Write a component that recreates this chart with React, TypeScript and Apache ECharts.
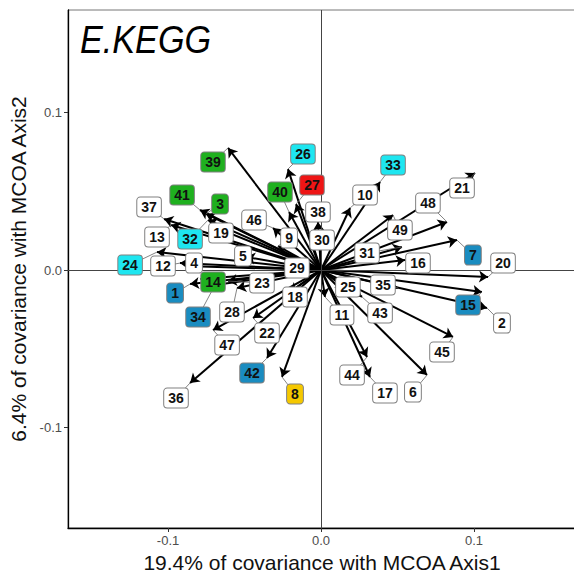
import React, { useEffect, useRef } from 'react';
import * as echarts from 'echarts';

const varNames = ['1','2','3','4','5','6','7','8','9','10','11','12','13','14','15','16','17','18','19','20','21','22','23','24','25','26','27','28','29','30','31','32','33','34','35','36','37','38','39','40','41','42','43','44','45','46','47','48','49'];

const tipX = [-0.0856,0.1085,-0.0752,-0.0882,-0.049,0.0693,0.0889,-0.0255,-0.0281,0.019,0.0026,-0.0922,-0.098,-0.0791,0.1052,0.0549,0.032,-0.0203,-0.0712,0.1092,0.1007,-0.0444,-0.0608,-0.1072,0.0157,-0.0216,-0.0163,-0.0549,-0.0137,-0.0007,0.0529,-0.0739,0.0386,-0.0693,0.0503,-0.0856,-0.1026,-0.002,-0.0608,-0.0209,-0.0791,-0.0353,0.0268,0.0301,0.0863,-0.0314,-0.0706,0.0824,0.0471];
const tipY = [-0.0089,-0.0241,0.0356,0.0025,0.0083,-0.0667,0.019,-0.0679,0.0152,0.0394,-0.0171,0.0044,0.0286,-0.0057,-0.014,0.0063,-0.0679,-0.014,0.0279,-0.0044,0.0616,-0.0305,-0.007,0.0114,-0.0114,0.0641,0.0419,-0.0114,0.0013,0.019,0.0146,0.0317,0.0559,-0.0095,-0.0114,-0.0717,0.0324,0.0305,0.0775,0.0368,0.0381,-0.0559,-0.0171,-0.0552,-0.0425,0.0267,-0.0381,0.0305,0.0349];

const labelX = [-0.0954,0.1183,-0.066,-0.083,-0.051,0.0601,0.0993,-0.017,-0.0209,0.0288,0.0137,-0.1033,-0.1072,-0.0706,0.0961,0.0634,0.0418,-0.017,-0.0654,0.119,0.0922,-0.0353,-0.0386,-0.1248,0.0176,-0.0118,-0.0059,-0.0582,-0.0157,0.0007,0.0301,-0.0856,0.0471,-0.0804,0.0405,-0.0948,-0.1124,-0.002,-0.0706,-0.0268,-0.0908,-0.0451,0.0386,0.0203,0.0791,-0.0438,-0.0614,0.0699,0.0516];
const labelY = [-0.0146,-0.0337,0.0419,0.0044,0.0089,-0.0775,0.0095,-0.0787,0.0203,0.0476,-0.0286,0.0025,0.021,-0.0076,-0.0222,0.0044,-0.0781,-0.0171,0.0235,0.0044,0.0521,-0.04,-0.0083,0.0032,-0.0108,0.0737,0.054,-0.0267,0.0013,0.019,0.0108,0.0197,0.0667,-0.0298,-0.0095,-0.0813,0.04,0.0368,0.0686,0.0495,0.0476,-0.0654,-0.0273,-0.0667,-0.0521,0.0317,-0.0476,0.0425,0.0254];

// group per variable: w white, g green, c cyan, b blue, r red, y yellow
const groups = ['b','w','g','w','w','w','b','y','w','w','w','w','w','g','b','w','w','w','w','w','w','w','w','c','w','c','r','w','w','w','w','c','c','b','w','w','w','w','g','g','g','b','w','w','w','w','w','w','w'];

const groupFill: Record<string, string> = {
  w: '#ffffff',
  g: '#1fb01f',
  c: '#1ee6f0',
  b: '#1a8cc0',
  r: '#ee1515',
  y: '#f5c800',
};

const xTicks = [-0.1, 0, 0.1];
const yTicks = [-0.1, 0, 0.1];

export default function App() {
  const ref = useRef<HTMLDivElement>(null);
  useEffect(() => {
    if (!ref.current) return;
    const chart = echarts.init(ref.current, null, { renderer: 'svg' });
    const option: any = {
      animation: false,
      backgroundColor: '#ffffff',
      textStyle: { fontFamily: 'Liberation Sans' },
      grid: { left: 68, right: -2, top: 10, bottom: 46, show: true, borderColor: '#777', borderWidth: 1, containLabel: false, outerBoundsMode: 'none' },
      xAxis: {
        type: 'value',
        min: -0.1654,
        max: 0.1667,
        axisLine: { show: true, onZero: false, lineStyle: { color: '#000', width: 1.3 } },
        axisTick: { show: true, customValues: xTicks, length: 4, lineStyle: { color: '#333' } },
        axisLabel: { customValues: xTicks, formatter: (v: number) => v.toFixed(1), color: '#4d4d4d', fontSize: 13, margin: 6 },
        splitLine: { show: false },
        name: '19.4% of covariance with MCOA Axis1',
        nameLocation: 'middle',
        nameGap: 23,
        nameTextStyle: { fontSize: 21, color: '#111' },
      },
      yAxis: {
        type: 'value',
        min: -0.1638,
        max: 0.1651,
        axisLine: { show: true, onZero: false, lineStyle: { color: '#000', width: 1.3 } },
        axisTick: { show: true, customValues: yTicks, length: 4, lineStyle: { color: '#333' } },
        axisLabel: { customValues: yTicks, formatter: (v: number) => v.toFixed(1), color: '#4d4d4d', fontSize: 13, margin: 6 },
        splitLine: { show: false },
        name: '6.4% of covariance with MCOA Axis2',
        nameLocation: 'middle',
        nameGap: 39,
        nameTextStyle: { fontSize: 21, color: '#111' },
      },
      graphic: [
        {
          type: 'text',
          x: 80,
          y: 21,
          scaleX: 0.9,
          z: 10,
          style: { text: 'E.KEGG', font: 'italic 38px "Liberation Sans"', fill: '#000' },
        },
      ],
      series: [
        {
          type: 'scatter',
          z: 1,
          data: [],
          markLine: {
            silent: true,
            symbol: ['none', 'none'],
            label: { show: false },
            lineStyle: { color: '#444', width: 1, type: 'solid' },
            data: [{ xAxis: 0 }, { yAxis: 0 }],
          },
        },
        {
          type: 'lines',
          coordinateSystem: 'cartesian2d',
          z: 3,
          silent: true,
          symbol: ['none', 'arrow'],
          symbolSize: [0, 9],
          lineStyle: { color: '#000', width: 2, opacity: 1 },
          data: varNames.map((n, i) => ({ name: n, coords: [[0, 0], [tipX[i], tipY[i]]] })),
        },
        {
          type: 'lines',
          coordinateSystem: 'cartesian2d',
          z: 4,
          silent: true,
          symbol: ['none', 'none'],
          lineStyle: { color: '#666', width: 0.8, opacity: 1 },
          data: varNames.map((n, i) => ({ name: n, coords: [[labelX[i], labelY[i]], [tipX[i], tipY[i]]] })),
        },
        {
          type: 'scatter',
          z: 5,
          silent: true,
          symbolSize: 1,
          itemStyle: { color: 'transparent', opacity: 1 },
          data: varNames.map((n, i) => ({
            name: n,
            value: [labelX[i], labelY[i]],
            label: { backgroundColor: groupFill[groups[i]] },
          })),
          label: {
            show: true,
            position: 'inside',
            formatter: '{b}',
            fontSize: 14,
            fontWeight: 'bold',
            color: '#111',
            opacity: 1,
            fontFamily: 'Liberation Sans',
            lineHeight: 16,
            padding: [2, 4, 1, 4],
            borderColor: '#808080',
            borderWidth: 1,
            borderRadius: 3,
            backgroundColor: '#fff',
          },
        },
      ],
    };
    chart.setOption(option);
    return () => chart.dispose();
  }, []);
  return <div ref={ref} style={{ position: 'fixed', left: 0, top: 0, width: 574, height: 574 }} />;
}
